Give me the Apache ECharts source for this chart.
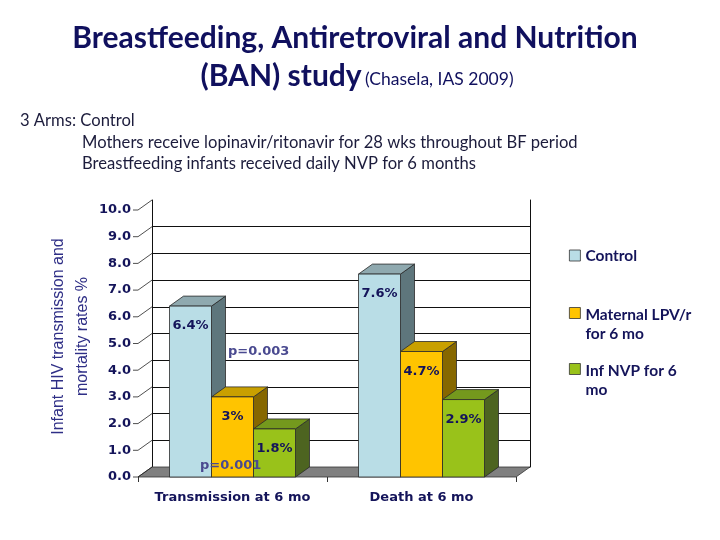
<!DOCTYPE html>
<html><head><meta charset="utf-8">
<script src="https://cdn.jsdelivr.net/npm/echarts@6/dist/echarts.min.js"></script>
<style>html,body{margin:0;padding:0;background:#fff}#c{width:720px;height:540px}</style>
</head><body><div id="c"></div>
<script>
// ---------------- data ----------------
const categories = ['Transmission at 6 mo', 'Death at 6 mo'];
const seriesNames = ['Control', 'Maternal LPV/r\nfor 6 mo', 'Inf NVP for 6\nmo'];
const controlValues = [6.4, 7.6];
const maternalValues = [3.0, 4.7];
const infantValues = [1.8, 2.9];
const yTicks = [0, 1, 2, 3, 4, 5, 6, 7, 8, 9, 10];
const pValueNotes = ['p=0.003', 'p=0.001'];
const titleLine1 = 'Breastfeeding, Antiretroviral and Nutrition';
const titleLine2Main = '(BAN) study';
const titleLine2Ref = '(Chasela, IAS 2009)';
const armLines = ['3 Arms: Control',
  'Mothers receive lopinavir/ritonavir for 28 wks throughout BF period',
  'Breastfeeding infants received daily NVP for 6 months'];
const yAxisTitle = 'Infant HIV transmission and\nmortality rates %';

// ---------------- styles / layout ----------------
const FL = 138, FR = 516, FT = 210, FB = 477, DX = 14, DY = 10;
const BAR_RATIO = 42 / 189;
const NAVY = '#14145a';
const faces = [
  { front: '#b9dde6', top: '#8fa9af', side: '#5e767c' },
  { front: '#ffc400', top: '#c9a000', side: '#866700' },
  { front: '#99c21a', top: '#74991d', side: '#4d6420' }
];
const allValues = [controlValues, maternalValues, infantValues];

function renderBar(params, api) {
  const si = params.seriesIndex;
  const cat = api.value(0), val = api.value(1);
  const base = api.coord([cat, 0]);
  const topP = api.coord([cat, val]);
  const band = api.size([1, 0])[0];
  const bw = band * BAR_RATIO;
  const x0 = base[0] - 1.5 * bw + si * bw;
  const x1 = x0 + bw, yb = base[1], yt = topP[1];
  const f = faces[si];
  const stroke = { stroke: '#2a2a2a', lineWidth: 0.8 };
  return {
    type: 'group',
    children: [
      { type: 'polygon', shape: { points: [[x1, yb], [x1 + DX, yb - DY], [x1 + DX, yt - DY], [x1, yt]] },
        style: Object.assign({ fill: f.side }, stroke) },
      { type: 'polygon', shape: { points: [[x0, yt], [x0 + DX, yt - DY], [x1 + DX, yt - DY], [x1, yt]] },
        style: Object.assign({ fill: f.top }, stroke) },
      { type: 'rect', shape: { x: x0, y: yt, width: bw, height: yb - yt },
        style: Object.assign({ fill: f.front }, stroke) },
      { type: 'text', style: { text: String(val) + '%', x: (x0 + x1) / 2, y: yt + 20,
        align: 'center', verticalAlign: 'middle', fill: NAVY,
        fontFamily: 'DejaVu Sans', fontWeight: 'bold', fontSize: 13 } }
    ]
  };
}

const legendText = { fontFamily: 'Lato', fontWeight: 'bold', fontSize: 15.5, color: NAVY, lineHeight: 19 };
const tallIcon = 'path://M0,0L10,0L10,10L0,10Z M0,30';

const chart = echarts.init(document.getElementById('c'), null, { renderer: 'canvas' });
chart.setOption({
  animation: false,
  backgroundColor: '#fff',
  grid: [
    { left: FL, top: FT, width: FR - FL, height: FB - FT },
    { left: FL + DX, top: FT - DY, width: FR - FL, height: FB - FT }
  ],
  xAxis: [
    { gridIndex: 0, type: 'category', data: categories,
      axisLine: { show: false },
      axisTick: { show: true, length: 5, lineStyle: { color: '#333' } },
      axisLabel: { interval: 0, hideOverlap: false, margin: 14, color: NAVY,
        fontFamily: 'DejaVu Sans', fontWeight: 'bold', fontSize: 13 } },
    { gridIndex: 1, type: 'value', min: 0, max: 1, show: false }
  ],
  yAxis: [
    { gridIndex: 0, type: 'value', min: 0, max: 10, interval: 1,
      axisLine: { show: false }, axisTick: { show: false }, splitLine: { show: false },
      axisLabel: { margin: 7, color: NAVY, fontFamily: 'DejaVu Sans', fontWeight: 'bold', fontSize: 13,
        formatter: v => v.toFixed(1) },
      name: yAxisTitle, nameLocation: 'middle', nameGap: 43, nameRotate: 90, nameMoveOverlap: false,
      nameTextStyle: { fontFamily: 'Liberation Sans', fontSize: 16, color: '#2f2f86', lineHeight: 24,
        padding: [0, 0, 0, 14] } },
    { gridIndex: 1, type: 'value', min: 0, max: 10, interval: 1,
      axisLine: { show: true, lineStyle: { color: '#111', width: 1 } },
      axisTick: { show: false }, axisLabel: { show: false },
      splitLine: { show: true, showMaxLine: false, lineStyle: { color: '#111', width: 1 } } },
    { gridIndex: 1, type: 'value', min: 0, max: 10, interval: 1, position: 'right',
      axisLine: { show: true, lineStyle: { color: '#111', width: 1 } },
      axisTick: { show: false }, axisLabel: { show: false }, splitLine: { show: false } }
  ],
  legend: [
    { data: [seriesNames[0]], left: 569, top: 246, padding: 0, orient: 'vertical',
      itemWidth: 11, itemHeight: 11, icon: 'rect', textStyle: legendText,
      itemStyle: { borderColor: '#333', borderWidth: 0.8 } },
    { data: [seriesNames[1]], left: 569, top: 305, padding: 0, orient: 'vertical',
      itemWidth: 11, itemHeight: 33, icon: tallIcon, textStyle: legendText,
      itemStyle: { borderColor: '#333', borderWidth: 0.8 } },
    { data: [seriesNames[2]], left: 569, top: 361, padding: 0, orient: 'vertical',
      itemWidth: 11, itemHeight: 33, icon: tallIcon, textStyle: legendText,
      itemStyle: { borderColor: '#333', borderWidth: 0.8 } }
  ],
  series: allValues.map((vals, i) => ({
    type: 'custom', name: seriesNames[i], xAxisIndex: 0, yAxisIndex: 0,
    itemStyle: { color: faces[i].front },
    renderItem: renderBar,
    encode: { x: 0, y: 1 },
    data: vals.map((v, k) => [k, v]),
    z: 3
  }))
});

// decorations computed from the axis scale
const g = [];
g.push({ type: 'polygon', z: 1,
  shape: { points: [[FL, FB], [FR, FB], [FR + DX, FB - DY], [FL + DX, FB - DY]] },
  style: { fill: '#808080', stroke: '#333', lineWidth: 0.8 } });
yTicks.forEach(v => {
  const y = chart.convertToPixel({ yAxisIndex: 0 }, v);
  g.push({ type: 'polyline', z: 1, shape: { points: [[FL - 5, y], [FL, y], [FL + DX, y - DY]] },
    style: { stroke: '#222', lineWidth: 0.8, fill: null } });
});
g.push({ type: 'text', z: 10, style: { text: titleLine1, x: 355, y: 38, align: 'center', verticalAlign: 'middle',
  fill: '#10105e', fontFamily: 'Lato', fontWeight: 'bold', fontSize: 30 } });
g.push({ type: 'text', z: 10, style: {
  text: '{a|' + titleLine2Main + '} {b|' + titleLine2Ref + '}', x: 357, y: 76, align: 'center', verticalAlign: 'middle',
  rich: { a: { fill: '#10105e', fontFamily: 'Lato', fontWeight: 'bold', fontSize: 30 },
          b: { fill: '#10105e', fontFamily: 'Lato', fontSize: 17.5, padding: [6, 0, 0, 0] } } } });
g.push({ type: 'text', z: 10, style: { text: armLines[0], x: 20, y: 121, verticalAlign: 'middle',
  fill: '#1c1c3c', fontFamily: 'Lato', fontSize: 16.6 } });
g.push({ type: 'text', z: 10, style: { text: armLines[1], x: 82, y: 143, verticalAlign: 'middle',
  fill: '#1c1c3c', fontFamily: 'Lato', fontSize: 16.6 } });
g.push({ type: 'text', z: 10, style: { text: armLines[2], x: 82, y: 164, verticalAlign: 'middle',
  fill: '#1c1c3c', fontFamily: 'Lato', fontSize: 16.6 } });
g.push({ type: 'text', z: 10, style: { text: pValueNotes[0], x: 228, y: 352, verticalAlign: 'middle',
  fill: '#4a4a90', fontFamily: 'DejaVu Sans', fontWeight: 'bold', fontSize: 13 } });
g.push({ type: 'text', z: 10, style: { text: pValueNotes[1], x: 200, y: 466, verticalAlign: 'middle',
  fill: '#4a4a90', fontFamily: 'DejaVu Sans', fontWeight: 'bold', fontSize: 13 } });
chart.setOption({ graphic: g });
</script>
</body></html>
